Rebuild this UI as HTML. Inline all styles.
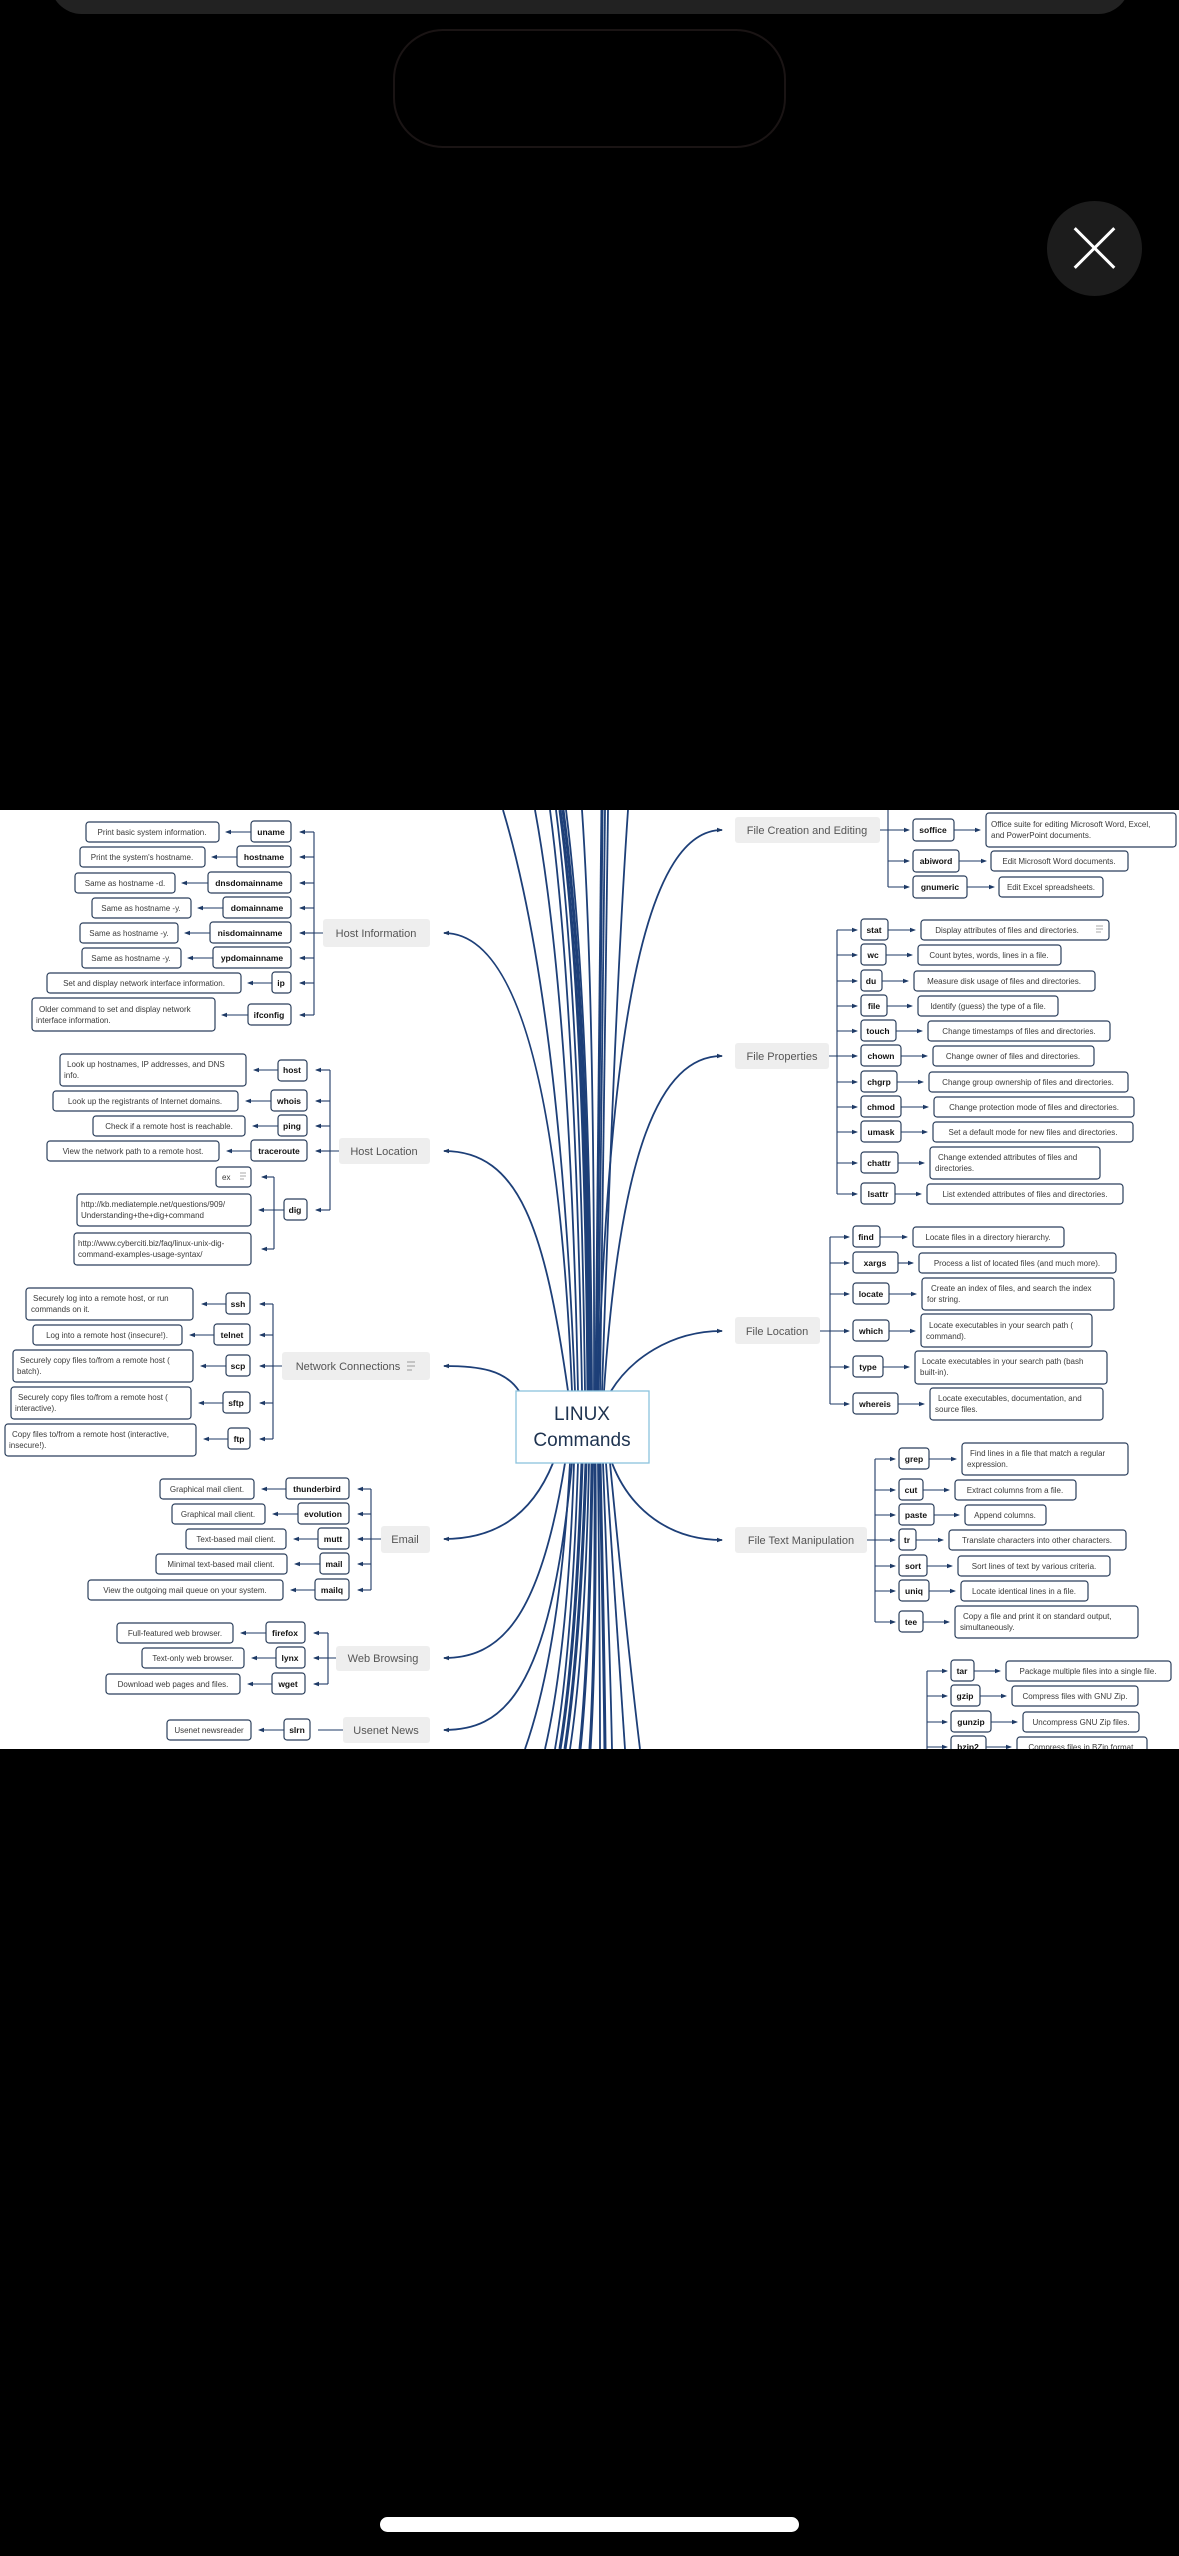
<!DOCTYPE html>
<html><head><meta charset="utf-8"><style>
html,body{margin:0;padding:0;background:#000;width:1179px;height:2556px;overflow:hidden;position:relative}
.bar{position:absolute;left:50px;top:-30px;width:1080px;height:44px;background:#222;border-radius:0 0 32px 32px}
.pill{position:absolute;left:393px;top:29px;width:389px;height:115px;border:2px solid #1a1414;border-radius:50px}
.xb{position:absolute;left:1047px;top:201px;width:95px;height:95px;border-radius:50%;background:#1c1c1c}
.xb:before,.xb:after{content:"";position:absolute;left:46px;top:19px;width:3px;height:56px;background:#fff;transform:rotate(45deg)}
.xb:after{transform:rotate(-45deg)}
.home{position:absolute;left:380px;top:2517px;width:419px;height:15px;background:#fff;border-radius:8px}
svg{position:absolute;left:0;top:810px}
text{font-family:"Liberation Sans",sans-serif}
.d{font-size:8px;fill:#3a3a3a}
.c{font-size:8.5px;font-weight:bold;fill:#111;text-anchor:middle}
.m{text-anchor:middle}
.L{font-size:11px;fill:#555;text-anchor:middle}
.br rect{fill:#fff;stroke:#2b3f5c;stroke-width:1.2}
.ln{stroke:#1e3a66;stroke-width:1.1;fill:none}
.cv{stroke:#1d3f78;stroke-width:1.8;fill:none}
.lb{fill:#eeeeee}
</style></head><body>
<div class="bar"></div><div class="pill"></div><div class="xb"></div><div class="home"></div>
<svg width="1179" height="939" viewBox="0 810 1179 939">
<defs><marker id="a" markerWidth="6" markerHeight="6" refX="5" refY="3" orient="auto" markerUnits="userSpaceOnUse"><path d="M0,0.8 L6,3 L0,5.2z" fill="#1e3a66"/></marker></defs>
<rect x="0" y="810" width="1179" height="939" fill="#fff"/>
<g class="cv">
<path d="M575 1391 Q560 1000 503 810"/><path d="M578 1391 Q570 1000 535 810"/><path d="M582 1391 Q575 1000 550 810"/>
<path d="M585 1391 Q580 1000 556 810"/><path d="M588 1391 Q585 1000 560 810" stroke-width="3"/><path d="M590 1391 Q588 1000 563 810" stroke-width="3"/>
<path d="M592 1391 Q590 1000 566 810"/><path d="M594 1391 Q595 1000 582 810"/><path d="M596 1391 Q600 1000 602 810" stroke-width="3"/>
<path d="M598 1391 Q602 1000 605 810"/><path d="M600 1391 Q606 1000 608 810"/><path d="M602 1391 Q615 1000 628 810"/>
<path d="M570 1463 Q560 1650 525 1749"/><path d="M574 1463 Q568 1650 545 1749"/><path d="M578 1463 Q572 1650 555 1749"/>
<path d="M582 1463 Q576 1650 560 1749" stroke-width="3"/><path d="M586 1463 Q580 1650 565 1749" stroke-width="3"/><path d="M589 1463 Q585 1650 570 1749"/>
<path d="M592 1463 Q590 1650 580 1749" stroke-width="3"/><path d="M595 1463 Q596 1650 590 1749" stroke-width="3"/><path d="M598 1463 Q600 1650 600 1749"/>
<path d="M600 1463 Q604 1650 605 1749" stroke-width="3"/><path d="M603 1463 Q610 1650 612 1749"/><path d="M606 1463 Q618 1650 625 1749"/><path d="M610 1463 Q628 1650 640 1749"/>
<path d="M572 1391 C560 1100 520 933 444 933" marker-end="url(#a)"/>
<path d="M568 1391 C545 1230 520 1151 444 1151" marker-end="url(#a)"/>
<path d="M519 1391 C505 1370 480 1366 444 1366" marker-end="url(#a)"/>
<path d="M553 1463 C530 1520 490 1539 444 1539" marker-end="url(#a)"/>
<path d="M565 1463 C540 1620 500 1658 444 1658" marker-end="url(#a)"/>
<path d="M572 1463 C550 1700 500 1730 444 1730" marker-end="url(#a)"/>
<path d="M598 1391 C610 1000 650 830 722 830" marker-end="url(#a)"/>
<path d="M604 1391 C620 1150 660 1056 722 1056" marker-end="url(#a)"/>
<path d="M611 1391 C630 1360 670 1331 722 1331" marker-end="url(#a)"/>
<path d="M612 1463 C630 1510 670 1540 722 1540" marker-end="url(#a)"/>
</g>
<rect x="516" y="1391" width="133" height="72" fill="#fff" stroke="#8cc3dd" stroke-width="1.3"/>
<text x="582" y="1420" class="m" font-size="19" fill="#1e3350">LINUX</text>
<text x="582" y="1446" class="m" font-size="19" fill="#1e3350">Commands</text>

<g>
<rect class="lb" x="323" y="919" width="107" height="28" rx="3"/><text class="L" x="376" y="937">Host Information</text>
<rect class="lb" x="339" y="1138" width="91" height="26" rx="3"/><text class="L" x="384" y="1155">Host Location</text>
<rect class="lb" x="282" y="1352" width="148" height="28" rx="3"/><text class="L" x="348" y="1370">Network Connections</text>
<path d="M407 1362h8M407 1366h8M407 1370h5" stroke="#999" stroke-width="1"/>
<rect class="lb" x="381" y="1526" width="49" height="27" rx="3"/><text class="L" x="405" y="1543">Email</text>
<rect class="lb" x="336" y="1646" width="94" height="25" rx="3"/><text class="L" x="383" y="1662">Web Browsing</text>
<rect class="lb" x="343" y="1717" width="87" height="26" rx="3"/><text class="L" x="386" y="1734">Usenet News</text>
<rect class="lb" x="735" y="817" width="145" height="26" rx="3"/><text class="L" x="807" y="834">File Creation and Editing</text>
<rect class="lb" x="735" y="1043" width="94" height="26" rx="3"/><text class="L" x="782" y="1060">File Properties</text>
<rect class="lb" x="735" y="1317" width="85" height="27" rx="3"/><text class="L" x="777" y="1335">File Location</text>
<rect class="lb" x="735" y="1527" width="132" height="26" rx="3"/><text class="L" x="801" y="1544">File Text Manipulation</text>
</g>

<g class="ln">
<path d="M314 832V1015M323 933H314M330 1070V1210M339 1151H330M274 1177V1249M273 1304V1439M282 1366H273M371 1489V1590M381 1539H371M328 1633V1684M336 1658H328M343 1730H318"/>
<path d="M880 830H888M888 805V887M829 1056H837M837 930V1194M820 1331H830M830 1237V1404M867 1540H875M875 1459V1622M927 1671V1749"/>
</g>
<g class="ln" marker-end="url(#a)">
<path d="M314 832H300"/><path d="M314 857H300"/><path d="M314 883H300"/><path d="M314 908H300"/><path d="M314 933H300"/><path d="M314 958H300"/><path d="M314 983H300"/><path d="M314 1015H300"/>
<path d="M251 832H226"/><path d="M237 857H212"/><path d="M208 883H182"/><path d="M223 908H198"/><path d="M210 933H185"/><path d="M213 958H188"/><path d="M272 983H248"/><path d="M248 1015H222"/>
<path d="M330 1070H316"/><path d="M330 1101H316"/><path d="M330 1126H316"/><path d="M330 1151H316"/><path d="M330 1210H316"/>
<path d="M278 1070H254"/><path d="M271 1101H246"/><path d="M278 1126H253"/><path d="M251 1151H227"/>
<path d="M274 1177H262"/><path d="M274 1249H262"/><path d="M284 1210H259"/>
<path d="M273 1304H260"/><path d="M273 1335H260"/><path d="M273 1366H260"/><path d="M273 1403H260"/><path d="M273 1439H260"/>
<path d="M226 1304H202"/><path d="M214 1335H190"/><path d="M226 1366H201"/><path d="M223 1403H199"/><path d="M228 1439H204"/>
<path d="M371 1489H358"/><path d="M371 1514H358"/><path d="M371 1539H358"/><path d="M371 1564H358"/><path d="M371 1590H358"/>
<path d="M286 1489H262"/><path d="M298 1514H273"/><path d="M318 1539H294"/><path d="M320 1564H295"/><path d="M315 1590H291"/>
<path d="M328 1633H314"/><path d="M328 1658H314"/><path d="M328 1684H314"/>
<path d="M266 1633H241"/><path d="M276 1658H252"/><path d="M272 1684H248"/>
<path d="M284 1730H259"/>
<path d="M888 830H909"/><path d="M888 861H909"/><path d="M888 887H909"/>
<path d="M954 830H980"/><path d="M959 861H986"/><path d="M967 887H994"/>
<path d="M837 930H857"/><path d="M837 955H857"/><path d="M837 981H857"/><path d="M837 1006H857"/><path d="M837 1031H857"/><path d="M837 1056H857"/><path d="M837 1082H857"/><path d="M837 1107H857"/><path d="M837 1132H857"/><path d="M837 1163H857"/><path d="M837 1194H857"/>
<path d="M888 930H915"/><path d="M886 955H912"/><path d="M882 981H908"/><path d="M887 1006H912"/><path d="M896 1031H922"/><path d="M901 1056H927"/><path d="M897 1082H923"/><path d="M901 1107H928"/><path d="M901 1132H927"/><path d="M898 1163H924"/><path d="M895 1194H921"/>
<path d="M830 1237H849"/><path d="M830 1263H849"/><path d="M830 1294H849"/><path d="M830 1331H849"/><path d="M830 1367H849"/><path d="M830 1404H849"/>
<path d="M880 1237H907"/><path d="M898 1263H913"/><path d="M889 1294H916"/><path d="M889 1331H915"/><path d="M883 1367H909"/><path d="M898 1404H924"/>
<path d="M875 1459H895"/><path d="M875 1490H895"/><path d="M875 1515H895"/><path d="M875 1540H895"/><path d="M875 1566H895"/><path d="M875 1591H895"/><path d="M875 1622H895"/>
<path d="M929 1459H956"/><path d="M923 1490H949"/><path d="M934 1515H959"/><path d="M916 1540H943"/><path d="M927 1566H952"/><path d="M929 1591H955"/><path d="M923 1622H949"/>
<path d="M927 1671H947"/><path d="M927 1696H947"/><path d="M927 1722H947"/><path d="M927 1747H947"/>
<path d="M974 1671H1000"/><path d="M980 1696H1006"/><path d="M991 1722H1017"/><path d="M986 1747H1011"/>
</g>

<g class="br">
<rect x="251" y="821" width="40" height="21" rx="3"/><rect x="237" y="846" width="54" height="21" rx="3"/><rect x="208" y="872" width="83" height="21" rx="3"/><rect x="223" y="897" width="68" height="21" rx="3"/><rect x="210" y="922" width="81" height="21" rx="3"/><rect x="213" y="947" width="78" height="21" rx="3"/><rect x="272" y="972" width="19" height="21" rx="3"/><rect x="248" y="1004" width="43" height="21" rx="3"/>
<rect x="86" y="822" width="133" height="20" rx="3"/><rect x="80" y="847" width="125" height="20" rx="3"/><rect x="75" y="873" width="100" height="20" rx="3"/><rect x="92" y="898" width="99" height="20" rx="3"/><rect x="80" y="923" width="98" height="20" rx="3"/><rect x="82" y="948" width="99" height="20" rx="3"/><rect x="47" y="973" width="194" height="20" rx="3"/><rect x="32" y="998" width="183" height="33" rx="3"/>
<rect x="278" y="1060" width="29" height="21" rx="3"/><rect x="271" y="1090" width="36" height="21" rx="3"/><rect x="278" y="1115" width="29" height="21" rx="3"/><rect x="251" y="1140" width="56" height="21" rx="3"/><rect x="284" y="1199" width="23" height="21" rx="3"/>
<rect x="60" y="1054" width="186" height="32" rx="3"/><rect x="53" y="1091" width="185" height="20" rx="3"/><rect x="93" y="1116" width="152" height="20" rx="3"/><rect x="47" y="1141" width="172" height="20" rx="3"/>
<rect x="216" y="1167" width="35" height="20" rx="3"/><rect x="77" y="1194" width="174" height="32" rx="3"/><rect x="74" y="1233" width="177" height="32" rx="3"/>
<rect x="226" y="1293" width="24" height="21" rx="3"/><rect x="214" y="1324" width="36" height="21" rx="3"/><rect x="226" y="1355" width="24" height="21" rx="3"/><rect x="223" y="1392" width="27" height="21" rx="3"/><rect x="228" y="1428" width="22" height="21" rx="3"/>
<rect x="26" y="1288" width="167" height="32" rx="3"/><rect x="33" y="1325" width="149" height="20" rx="3"/><rect x="13" y="1350" width="180" height="32" rx="3"/><rect x="11" y="1387" width="180" height="32" rx="3"/><rect x="5" y="1424" width="191" height="32" rx="3"/>
<rect x="286" y="1478" width="63" height="21" rx="3"/><rect x="298" y="1503" width="51" height="21" rx="3"/><rect x="318" y="1528" width="31" height="21" rx="3"/><rect x="320" y="1553" width="29" height="21" rx="3"/><rect x="315" y="1579" width="34" height="21" rx="3"/>
<rect x="160" y="1479" width="94" height="20" rx="3"/><rect x="172" y="1504" width="93" height="20" rx="3"/><rect x="186" y="1529" width="100" height="20" rx="3"/><rect x="156" y="1554" width="131" height="20" rx="3"/><rect x="88" y="1580" width="195" height="20" rx="3"/>
<rect x="266" y="1622" width="39" height="21" rx="3"/><rect x="276" y="1647" width="29" height="21" rx="3"/><rect x="272" y="1673" width="33" height="21" rx="3"/>
<rect x="117" y="1623" width="116" height="20" rx="3"/><rect x="142" y="1648" width="102" height="20" rx="3"/><rect x="106" y="1674" width="134" height="20" rx="3"/>
<rect x="284" y="1719" width="26" height="21" rx="3"/><rect x="167" y="1720" width="84" height="20" rx="3"/>
<rect x="913" y="819" width="41" height="22" rx="3"/><rect x="913" y="850" width="46" height="22" rx="3"/><rect x="913" y="876" width="54" height="22" rx="3"/>
<rect x="986" y="813" width="190" height="34" rx="3"/><rect x="991" y="851" width="137" height="20" rx="3"/><rect x="999" y="877" width="104" height="20" rx="3"/>
<rect x="861" y="919" width="27" height="21" rx="3"/><rect x="861" y="944" width="25" height="21" rx="3"/><rect x="861" y="970" width="21" height="21" rx="3"/><rect x="861" y="995" width="26" height="21" rx="3"/><rect x="861" y="1020" width="35" height="21" rx="3"/><rect x="861" y="1045" width="40" height="21" rx="3"/><rect x="861" y="1071" width="36" height="21" rx="3"/><rect x="861" y="1096" width="40" height="21" rx="3"/><rect x="861" y="1121" width="40" height="21" rx="3"/><rect x="861" y="1152" width="37" height="21" rx="3"/><rect x="861" y="1183" width="34" height="21" rx="3"/>
<rect x="921" y="920" width="188" height="20" rx="3"/><rect x="918" y="945" width="143" height="20" rx="3"/><rect x="914" y="971" width="181" height="20" rx="3"/><rect x="918" y="996" width="140" height="20" rx="3"/><rect x="928" y="1021" width="182" height="20" rx="3"/><rect x="933" y="1046" width="161" height="20" rx="3"/><rect x="929" y="1072" width="199" height="20" rx="3"/><rect x="934" y="1097" width="200" height="20" rx="3"/><rect x="933" y="1122" width="200" height="20" rx="3"/><rect x="930" y="1147" width="170" height="32" rx="3"/><rect x="927" y="1184" width="196" height="20" rx="3"/>
<rect x="853" y="1226" width="27" height="21" rx="3"/><rect x="853" y="1252" width="45" height="21" rx="3"/><rect x="853" y="1283" width="36" height="21" rx="3"/><rect x="853" y="1320" width="36" height="21" rx="3"/><rect x="853" y="1356" width="30" height="21" rx="3"/><rect x="853" y="1393" width="45" height="21" rx="3"/>
<rect x="913" y="1227" width="151" height="20" rx="3"/><rect x="919" y="1253" width="197" height="20" rx="3"/><rect x="922" y="1278" width="192" height="32" rx="3"/><rect x="921" y="1314" width="171" height="33" rx="3"/><rect x="915" y="1351" width="192" height="33" rx="3"/><rect x="930" y="1388" width="173" height="32" rx="3"/>
<rect x="899" y="1448" width="30" height="21" rx="3"/><rect x="899" y="1479" width="24" height="21" rx="3"/><rect x="899" y="1504" width="35" height="21" rx="3"/><rect x="899" y="1529" width="17" height="21" rx="3"/><rect x="899" y="1555" width="28" height="21" rx="3"/><rect x="899" y="1580" width="30" height="21" rx="3"/><rect x="899" y="1611" width="24" height="21" rx="3"/>
<rect x="962" y="1443" width="166" height="32" rx="3"/><rect x="955" y="1480" width="121" height="20" rx="3"/><rect x="965" y="1505" width="81" height="20" rx="3"/><rect x="949" y="1530" width="177" height="20" rx="3"/><rect x="958" y="1556" width="152" height="20" rx="3"/><rect x="961" y="1581" width="127" height="20" rx="3"/><rect x="955" y="1606" width="183" height="32" rx="3"/>
<rect x="951" y="1660" width="23" height="21" rx="3"/><rect x="951" y="1685" width="29" height="21" rx="3"/><rect x="951" y="1711" width="40" height="21" rx="3"/><rect x="951" y="1736" width="35" height="21" rx="3"/>
<rect x="1006" y="1661" width="165" height="20" rx="3"/><rect x="1012" y="1686" width="126" height="20" rx="3"/><rect x="1023" y="1712" width="116" height="20" rx="3"/><rect x="1017" y="1737" width="130" height="20" rx="3"/>
</g>

<g class="c">
<text x="271" y="835">uname</text><text x="264" y="860">hostname</text><text x="249" y="886">dnsdomainname</text><text x="257" y="911">domainname</text><text x="250" y="936">nisdomainname</text><text x="252" y="961">ypdomainname</text><text x="281" y="986">ip</text><text x="269" y="1018">ifconfig</text>
<text x="292" y="1073">host</text><text x="289" y="1104">whois</text><text x="292" y="1129">ping</text><text x="279" y="1154">traceroute</text><text x="295" y="1213">dig</text>
<text x="238" y="1307">ssh</text><text x="232" y="1338">telnet</text><text x="238" y="1369">scp</text><text x="236" y="1406">sftp</text><text x="239" y="1442">ftp</text>
<text x="317" y="1492">thunderbird</text><text x="323" y="1517">evolution</text><text x="333" y="1542">mutt</text><text x="334" y="1567">mail</text><text x="332" y="1593">mailq</text>
<text x="285" y="1636">firefox</text><text x="290" y="1661">lynx</text><text x="288" y="1687">wget</text><text x="297" y="1733">slrn</text>
<text x="933" y="833">soffice</text><text x="936" y="864">abiword</text><text x="940" y="890">gnumeric</text>
<text x="874" y="933">stat</text><text x="873" y="958">wc</text><text x="871" y="984">du</text><text x="874" y="1009">file</text><text x="878" y="1034">touch</text><text x="881" y="1059">chown</text><text x="879" y="1085">chgrp</text><text x="881" y="1110">chmod</text><text x="881" y="1135">umask</text><text x="879" y="1166">chattr</text><text x="878" y="1197">lsattr</text>
<text x="866" y="1240">find</text><text x="875" y="1266">xargs</text><text x="871" y="1297">locate</text><text x="871" y="1334">which</text><text x="868" y="1370">type</text><text x="875" y="1407">whereis</text>
<text x="914" y="1462">grep</text><text x="911" y="1493">cut</text><text x="916" y="1518">paste</text><text x="907" y="1543">tr</text><text x="913" y="1569">sort</text><text x="914" y="1594">uniq</text><text x="911" y="1625">tee</text>
<text x="962" y="1674">tar</text><text x="965" y="1699">gzip</text><text x="971" y="1725">gunzip</text><text x="968" y="1750">bzip2</text>
</g>

<g class="d">
<text x="152" y="835" class="m">Print basic system information.</text>
<text x="142" y="860" class="m">Print the system's hostname.</text>
<text x="125" y="886" class="m">Same as hostname -d.</text>
<text x="141" y="911" class="m">Same as hostname -y.</text>
<text x="129" y="936" class="m">Same as hostname -y.</text>
<text x="131" y="961" class="m">Same as hostname -y.</text>
<text x="144" y="986" class="m">Set and display network interface information.</text>
<text x="36" y="1012"><tspan x="39">Older command to set and display network</tspan><tspan x="36" dy="11">interface information.</tspan></text>
<text y="1067"><tspan x="67">Look up hostnames, IP addresses, and DNS</tspan><tspan x="64" dy="11">info.</tspan></text>
<text x="145" y="1104" class="m">Look up the registrants of Internet domains.</text>
<text x="169" y="1129" class="m">Check if a remote host is reachable.</text>
<text x="133" y="1154" class="m">View the network path to a remote host.</text>
<text x="222" y="1180">ex</text><path d="M240 1173h6M240 1176h6M240 1179h4" stroke="#aaa"/>
<text y="1207"><tspan x="81">http://kb.mediatemple.net/questions/909/</tspan><tspan x="81" dy="11">Understanding+the+dig+command</tspan></text>
<text y="1246"><tspan x="78">http://www.cyberciti.biz/faq/linux-unix-dig-</tspan><tspan x="78" dy="11">command-examples-usage-syntax/</tspan></text>
<text y="1301"><tspan x="33">Securely log into a remote host, or run</tspan><tspan x="31" dy="11">commands on it.</tspan></text>
<text x="107" y="1338" class="m">Log into a remote host (insecure!).</text>
<text y="1363"><tspan x="20">Securely copy files to/from a remote host (</tspan><tspan x="17" dy="11">batch).</tspan></text>
<text y="1400"><tspan x="18">Securely copy files to/from a remote host (</tspan><tspan x="15" dy="11">interactive).</tspan></text>
<text y="1437"><tspan x="12">Copy files to/from a remote host (interactive,</tspan><tspan x="9" dy="11">insecure!).</tspan></text>
<text x="207" y="1492" class="m">Graphical mail client.</text>
<text x="218" y="1517" class="m">Graphical mail client.</text>
<text x="236" y="1542" class="m">Text-based mail client.</text>
<text x="221" y="1567" class="m">Minimal text-based mail client.</text>
<text x="185" y="1593" class="m">View the outgoing mail queue on your system.</text>
<text x="175" y="1636" class="m">Full-featured web browser.</text>
<text x="193" y="1661" class="m">Text-only web browser.</text>
<text x="173" y="1687" class="m">Download web pages and files.</text>
<text x="209" y="1733" class="m">Usenet newsreader</text>
<text y="827"><tspan x="991">Office suite for editing Microsoft Word, Excel,</tspan><tspan x="991" dy="11">and PowerPoint documents.</tspan></text>
<text x="1059" y="864" class="m">Edit Microsoft Word documents.</text>
<text x="1051" y="890" class="m">Edit Excel spreadsheets.</text>
<text x="1007" y="933" class="m">Display attributes of files and directories.</text><path d="M1096 926h7M1096 929h7M1096 932h5" stroke="#aaa"/>
<text x="989" y="958" class="m">Count bytes, words, lines in a file.</text>
<text x="1004" y="984" class="m">Measure disk usage of files and directories.</text>
<text x="988" y="1009" class="m">Identify (guess) the type of a file.</text>
<text x="1019" y="1034" class="m">Change timestamps of files and directories.</text>
<text x="1013" y="1059" class="m">Change owner of files and directories.</text>
<text x="1028" y="1085" class="m">Change group ownership of files and directories.</text>
<text x="1034" y="1110" class="m">Change protection mode of files and directories.</text>
<text x="1033" y="1135" class="m">Set a default mode for new files and directories.</text>
<text y="1160"><tspan x="938">Change extended attributes of files and</tspan><tspan x="935" dy="11">directories.</tspan></text>
<text x="1025" y="1197" class="m">List extended attributes of files and directories.</text>
<text x="988" y="1240" class="m">Locate files in a directory hierarchy.</text>
<text x="1017" y="1266" class="m">Process a list of located files (and much more).</text>
<text y="1291"><tspan x="931">Create an index of files, and search the index</tspan><tspan x="927" dy="11">for string.</tspan></text>
<text y="1328"><tspan x="929">Locate executables in your search path (</tspan><tspan x="926" dy="11">command).</tspan></text>
<text y="1364"><tspan x="922">Locate executables in your search path (bash</tspan><tspan x="920" dy="11">built-in).</tspan></text>
<text y="1401"><tspan x="938">Locate executables, documentation, and</tspan><tspan x="935" dy="11">source files.</tspan></text>
<text y="1456"><tspan x="970">Find lines in a file that match a regular</tspan><tspan x="967" dy="11">expression.</tspan></text>
<text x="1015" y="1493" class="m">Extract columns from a file.</text>
<text x="1005" y="1518" class="m">Append columns.</text>
<text x="1037" y="1543" class="m">Translate characters into other characters.</text>
<text x="1034" y="1569" class="m">Sort lines of text by various criteria.</text>
<text x="1024" y="1594" class="m">Locate identical lines in a file.</text>
<text y="1619"><tspan x="963">Copy a file and print it on standard output,</tspan><tspan x="960" dy="11">simultaneously.</tspan></text>
<text x="1088" y="1674" class="m">Package multiple files into a single file.</text>
<text x="1075" y="1699" class="m">Compress files with GNU Zip.</text>
<text x="1081" y="1725" class="m">Uncompress GNU Zip files.</text>
<text x="1082" y="1750" class="m">Compress files in BZip format.</text>
</g>
</svg>
</body></html>
